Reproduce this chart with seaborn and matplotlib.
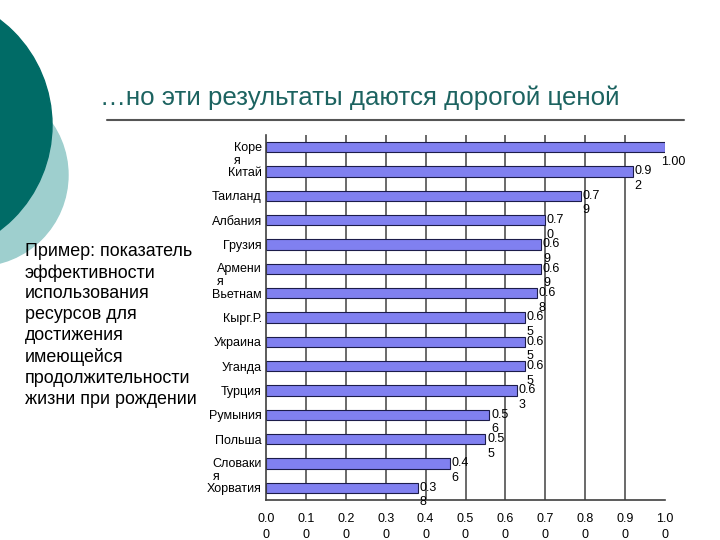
import matplotlib
matplotlib.use("Agg")
import matplotlib.pyplot as plt
import matplotlib.transforms as mtransforms
from matplotlib.patches import Circle
from matplotlib.lines import Line2D
import seaborn as sns
import pandas as pd

countries = ["Коре\nя", "Китай", "Таиланд", "Албания", "Грузия", "Армени\nя", "Вьетнам",
             "Кырг.Р.", "Украина", "Уганда", "Турция", "Румыния", "Польша", "Словаки\nя", "Хорватия"]
values = [1.00, 0.92, 0.79, 0.70, 0.69, 0.69, 0.68, 0.65, 0.65, 0.65, 0.63, 0.56, 0.55, 0.46, 0.38]
value_labels = ["1.00", "0.9\n2", "0.7\n9", "0.7\n0", "0.6\n9", "0.6\n9", "0.6\n8", "0.6\n5",
                "0.6\n5", "0.6\n5", "0.6\n3", "0.5\n6", "0.5\n5", "0.4\n6", "0.3\n8"]
xticks = [0.0, 0.1, 0.2, 0.3, 0.4, 0.5, 0.6, 0.7, 0.8, 0.9, 1.0]
xtick_labels = ["0.0\n0", "0.1\n0", "0.2\n0", "0.3\n0", "0.4\n0", "0.5\n0", "0.6\n0",
                "0.7\n0", "0.8\n0", "0.9\n0", "1.0\n0"]
title = "…но эти результаты даются дорогой ценой"
side_text = ("Пример: показатель\nэффективности\nиспользования\nресурсов для\nдостижения\n"
             "имеющейся\nпродолжительности\nжизни при рождении")

sns.set_style("white")
plt.rcParams["font.family"] = ["Liberation Sans", "DejaVu Sans"]
plt.rcParams["text.color"] = "black"
plt.rcParams["xtick.color"] = "black"
plt.rcParams["ytick.color"] = "black"

fig = plt.figure(figsize=(7.2, 5.4), dpi=100)
fig.patch.set_facecolor("white")

# decorative circles
deco = fig.add_axes([0, 0, 1, 1], zorder=0)
deco.set_xlim(0, 720)
deco.set_ylim(540, 0)
deco.axis("off")
deco.add_patch(Circle((-23, 175), 91, color="#9ecfce", zorder=1))
deco.add_patch(Circle((-80, 125), 132, color="#006b66", zorder=2))
deco.add_line(Line2D([107, 684], [120, 120], color="#555555", lw=1.5))

fig.text(100 / 720, 1 - 98 / 540, title, fontsize=18.6, color="#1c6360", va="center", ha="left")
fig.text(25 / 720, 1 - 243 / 540, side_text, fontsize=12.9, color="black", va="top", ha="left",
         linespacing=1.3)

ax = fig.add_axes([266 / 720, 1 - 500 / 540, 399 / 720, 365 / 540], zorder=2)
ax.patch.set_alpha(0)
df = pd.DataFrame({"country": countries, "value": values})
sns.barplot(data=df, x="value", y="country", orient="h", color="#8080f0", saturation=1,
            edgecolor="#1c1c4a", linewidth=0.8, width=0.42, ax=ax)

ax.set_xlim(0, 1.0)
ax.set_ylim(14.5, -0.5)
ax.set_xlabel("")
ax.set_ylabel("")
for g in xticks[1:-1]:
    ax.axvline(g, color="#505050", lw=1.2, zorder=0)

ax.set_xticks(xticks)
ax.set_xticklabels(xtick_labels, fontsize=9, linespacing=1.45)
ax.tick_params(axis="x", direction="inout", length=6, width=1, color="#404040", pad=6)

ax.set_yticks(range(len(countries)))
ax.set_yticklabels(countries, fontsize=9)
ax.set_yticks([i + 0.5 for i in range(-1, len(countries))], minor=True)
ax.tick_params(axis="y", which="major", length=0, pad=3)
ax.tick_params(axis="y", which="minor", length=4, width=1, color="#404040", direction="out")
for lab in ax.get_yticklabels():
    if "\n" in lab.get_text():
        lab.set_va("top")
        lab.set_multialignment("left")
        lab.set_linespacing(1.1)
        lab.set_transform(lab.get_transform() +
                          mtransforms.ScaledTranslation(0, 4 / 72, fig.dpi_scale_trans))

for s in ["top", "right"]:
    ax.spines[s].set_visible(False)
for s in ["left", "bottom"]:
    ax.spines[s].set_color("#404040")
    ax.spines[s].set_linewidth(1.2)

for i, (v, lab) in enumerate(zip(values, value_labels)):
    if v >= 0.99:
        ax.text(v - 0.01, i + 0.62, lab, fontsize=9, va="center", ha="left")
    else:
        ax.text(v + 0.004, i, lab, fontsize=9, va="top", ha="left", linespacing=1.3,
                transform=ax.transData + mtransforms.ScaledTranslation(0, 4.5 / 72, fig.dpi_scale_trans))

fig.savefig("out.png", dpi=100)
